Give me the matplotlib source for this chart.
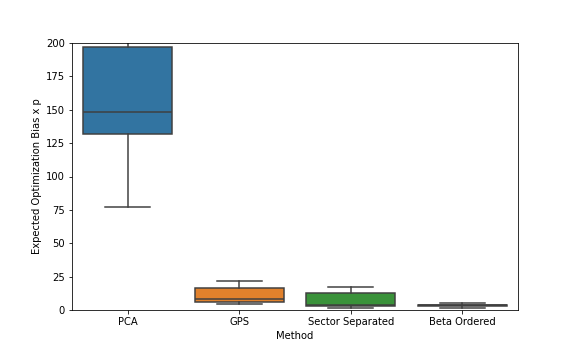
import matplotlib
matplotlib.use("Agg")
import matplotlib.pyplot as plt
import seaborn as sns

methods = ["PCA", "GPS", "Sector Separated", "Beta Ordered"]
whis_lo = [77.5, 4.3, 1.7, 1.7]
q1 = [131.5, 6.3, 3.2, 3.1]
median = [148.0, 8.0, 3.6, 3.5]
q3 = [197.0, 16.3, 13.0, 3.9]
whis_hi = [260.0, 22.0, 17.5, 5.2]

colors = sns.color_palette("tab10", 4, desat=0.75)
gray = "#3f3f3f"

fig = plt.figure(figsize=(8, 355 / 72), dpi=72)
ax = fig.add_axes([72 / 576, 45 / 355, 446 / 576, 267 / 355])

stats = []
for i, m in enumerate(methods):
    stats.append({"label": m, "whislo": whis_lo[i], "q1": q1[i], "med": median[i],
                  "q3": q3[i], "whishi": whis_hi[i], "fliers": []})

bp = ax.bxp(stats, positions=range(len(methods)), widths=0.8, patch_artist=True,
            showfliers=False,
            boxprops=dict(edgecolor=gray, linewidth=1.5),
            medianprops=dict(color=gray, linewidth=1.5),
            whiskerprops=dict(color=gray, linewidth=1.5),
            capprops=dict(color=gray, linewidth=1.5))
for patch, c in zip(bp["boxes"], colors):
    patch.set_facecolor(c)

ax.set_xlim(-0.5, len(methods) - 0.5)
ax.set_ylim(0, 200)
ax.set_xticks(range(len(methods)))
ax.set_xticklabels(methods)
ax.set_xlabel("Method")
ax.set_ylabel("Expected Optimization Bias x p")

fig.savefig("out.png", dpi=72)
